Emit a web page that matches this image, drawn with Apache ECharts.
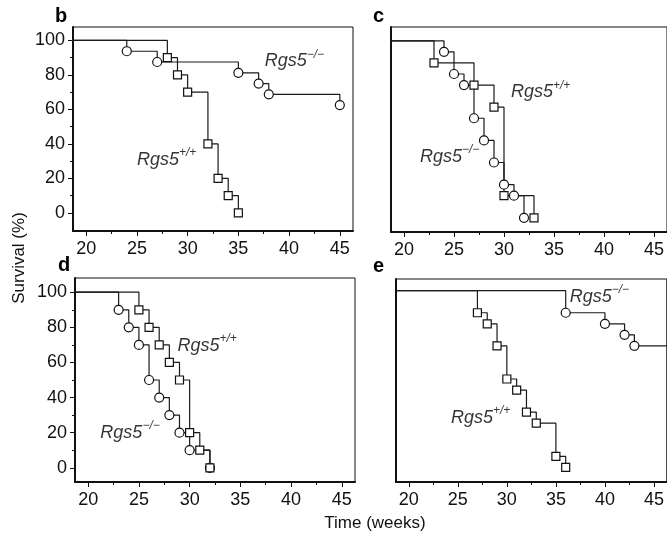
<!DOCTYPE html>
<html>
<head>
<meta charset="utf-8">
<script src="https://cdn.jsdelivr.net/npm/echarts@6/dist/echarts.min.js"></script>
<style>
html, body { margin: 0; padding: 0; background: #fff; }
#chart { width: 667px; height: 536px; }
</style>
</head>
<body>
<div id="chart"></div>
<script>
// ticks shared by the four panels
const xTicks = [20, 25, 30, 35, 40, 45];
const xMinorTicks = [22.5, 27.5, 32.5, 37.5, 42.5];
const yTicks = [0, 20, 40, 60, 80, 100];
const yMinorTicks = [10, 30, 50, 70, 90];

// panel b
const bKoWeeks = [24, 27, 35, 37, 38, 45];
const bKoSurvival = [93.75, 87.5, 81.25, 75, 68.75, 62.5];
const bWtWeeks = [28, 29, 30, 32, 33, 34, 35];
const bWtSurvival = [90, 80, 70, 40, 20, 10, 0];

// panel c
const cWtWeeks = [23, 27, 29, 30, 33];
const cWtSurvival = [87.5, 75, 62.5, 12.5, 0];
const cKoWeeks = [24, 25, 26, 27, 28, 29, 30, 31, 32];
const cKoSurvival = [93.75, 81.25, 75, 56.25, 43.75, 31.25, 18.75, 12.5, 0];

// panel d
const dWtWeeks = [25, 26, 27, 28, 29, 30, 31, 32];
const dWtSurvival = [90, 80, 70, 60, 50, 20, 10, 0];
const dKoWeeks = [23, 24, 25, 26, 27, 28, 29, 30, 32];
const dKoSurvival = [90, 80, 70, 50, 40, 30, 20, 10, 0];

// panel e
const eWtWeeks = [27, 28, 29, 30, 31, 32, 33, 35, 36];
const eWtSurvival = [87.5, 81.25, 68.75, 50, 43.75, 31.25, 25, 6.25, 0];
const eKoWeeks = [36, 40, 42, 43];
const eKoSurvival = [87.5, 81.25, 75, 68.75];
const eKoFollowUp = 48; // still alive at end of follow-up

const FONT = '"Liberation Sans", Arial, Helvetica, sans-serif';
const INK = '#111';

const chart = echarts.init(document.getElementById('chart'), null, { renderer: 'canvas' });

const grids = [], xAxes = [], yAxes = [], series = [];

function kmLine(weeks, surv, followUp) {
    const pts = [[0, 100]];
    weeks.forEach((w, i) => pts.push([w, surv[i]]));
    if (followUp) pts.push([followUp, surv[surv.length - 1]]);
    return pts;
}

function addPanel(p) {
    const gi = grids.length;
    grids.push({
        left: p.left, top: p.top, width: 280, height: p.height,
        show: true, borderColor: INK, borderWidth: 1, backgroundColor: 'transparent'
    });
    const xi = xAxes.length, yi = yAxes.length;
    xAxes.push({
        gridIndex: gi, type: 'value', position: 'bottom', min: 18.7, max: 46.3,
        axisLine: { onZero: false, lineStyle: { color: INK, width: 2 } },
        axisTick: { customValues: xTicks, length: 5, lineStyle: { color: INK, width: 1 } },
        axisLabel: { customValues: xTicks, fontSize: 18, color: INK, fontFamily: FONT, margin: 9 },
        splitLine: { show: false }
    }, {
        gridIndex: gi, type: 'value', position: 'bottom', min: 18.7, max: 46.3,
        axisLine: { show: false, onZero: false },
        axisTick: { customValues: xMinorTicks, length: 3, lineStyle: { color: INK, width: 1 } },
        axisLabel: { show: false },
        splitLine: { show: false }
    });
    yAxes.push({
        gridIndex: gi, type: 'value', position: 'left', min: p.yMin, max: p.yMax,
        axisLine: { onZero: false, lineStyle: { color: INK, width: 2 } },
        axisTick: { show: p.yLabels, customValues: yTicks, length: 5, lineStyle: { color: INK, width: 1 } },
        axisLabel: { show: p.yLabels, customValues: yTicks, fontSize: 18, color: INK, fontFamily: FONT, margin: 8 },
        splitLine: { show: false }
    }, {
        gridIndex: gi, type: 'value', position: 'left', min: p.yMin, max: p.yMax,
        axisLine: { show: false, onZero: false },
        axisTick: { show: p.yLabels, customValues: yMinorTicks, length: 3, lineStyle: { color: INK, width: 1 } },
        axisLabel: { show: false },
        splitLine: { show: false }
    });

    p.curves.forEach(c => {
        series.push({
            type: 'line', step: 'end', xAxisIndex: xi, yAxisIndex: yi,
            data: kmLine(c.weeks, c.surv, c.followUp),
            symbol: 'none', clip: true, animation: false,
            lineStyle: { color: '#1a1a1a', width: 1.2 }, z: 2
        });
        series.push({
            type: 'scatter', xAxisIndex: xi, yAxisIndex: yi,
            data: c.weeks.map((w, i) => [w, c.surv[i]]),
            symbol: c.wt ? 'rect' : 'circle', symbolSize: c.wt ? 8 : 9,
            itemStyle: { color: '#fff', borderColor: INK, borderWidth: 1.2, opacity: 1 },
            clip: false, animation: false, z: 3
        });
    });

    p.notes.forEach(n => {
        series.push({
            type: 'scatter', xAxisIndex: xi, yAxisIndex: yi,
            data: [n.at], symbolSize: 0, animation: false, silent: true, z: 4,
            label: {
                show: true, position: 'right', distance: 0,
                formatter: '{m|Rgs5}{s|' + (n.wt ? '+/+' : '−/−') + '}',
                rich: {
                    m: { fontSize: 18, fontStyle: 'italic', fontFamily: FONT, color: '#000', lineHeight: 22, verticalAlign: 'bottom' },
                    s: { fontSize: 12, fontStyle: 'italic', fontFamily: FONT, color: '#000', lineHeight: 14, verticalAlign: 'top' }
                }
            }
        });
    });
}

addPanel({
    left: 73, top: 27, height: 204, yMin: -10.5, yMax: 107.8, yLabels: true,
    curves: [
        { weeks: bKoWeeks, surv: bKoSurvival, wt: false },
        { weeks: bWtWeeks, surv: bWtSurvival, wt: true }
    ],
    notes: [{ at: [37.6, 89], wt: false }, { at: [25, 32], wt: true }]
});
addPanel({
    left: 391, top: 27, height: 205, yMin: -8, yMax: 107.8, yLabels: false,
    curves: [
        { weeks: cKoWeeks, surv: cKoSurvival, wt: false },
        { weeks: cWtWeeks, surv: cWtSurvival, wt: true }
    ],
    notes: [{ at: [30.7, 72], wt: true }, { at: [21.6, 35.5], wt: false }]
});
addPanel({
    left: 75, top: 278, height: 204, yMin: -8.1, yMax: 108.1, yLabels: true,
    curves: [
        { weeks: dKoWeeks, surv: dKoSurvival, wt: false },
        { weeks: dWtWeeks, surv: dWtSurvival, wt: true }
    ],
    notes: [{ at: [28.8, 70.5], wt: true }, { at: [21.2, 21], wt: false }]
});
addPanel({
    left: 396, top: 279, height: 203, yMin: -8.3, yMax: 106.6, yLabels: false,
    curves: [
        { weeks: eKoWeeks, surv: eKoSurvival, followUp: eKoFollowUp, wt: false },
        { weeks: eWtWeeks, surv: eWtSurvival, wt: true }
    ],
    notes: [{ at: [36.4, 97.6], wt: false }, { at: [24.3, 29], wt: true }]
});

const letterStyle = { fontSize: 20, fontWeight: 'bold', fontFamily: FONT, fill: '#000' };
chart.setOption({
    animation: false,
    backgroundColor: '#fff',
    grid: grids,
    xAxis: xAxes,
    yAxis: yAxes,
    series: series,
    graphic: [
        { type: 'text', left: 55, top: 6, style: Object.assign({ text: 'b' }, letterStyle) },
        { type: 'text', left: 373, top: 6, style: Object.assign({ text: 'c' }, letterStyle) },
        { type: 'text', left: 58, top: 255, style: Object.assign({ text: 'd' }, letterStyle) },
        { type: 'text', left: 373, top: 256, style: Object.assign({ text: 'e' }, letterStyle) },
        {
            type: 'text', x: 19, y: 258, rotation: Math.PI / 2,
            style: { text: 'Survival (%)', fontSize: 17, fontFamily: FONT, fill: INK, align: 'center', verticalAlign: 'middle' }
        },
        {
            type: 'text', x: 375, y: 523,
            style: { text: 'Time (weeks)', fontSize: 17, fontFamily: FONT, fill: INK, align: 'center', verticalAlign: 'middle' }
        }
    ]
});
</script>
</body>
</html>
